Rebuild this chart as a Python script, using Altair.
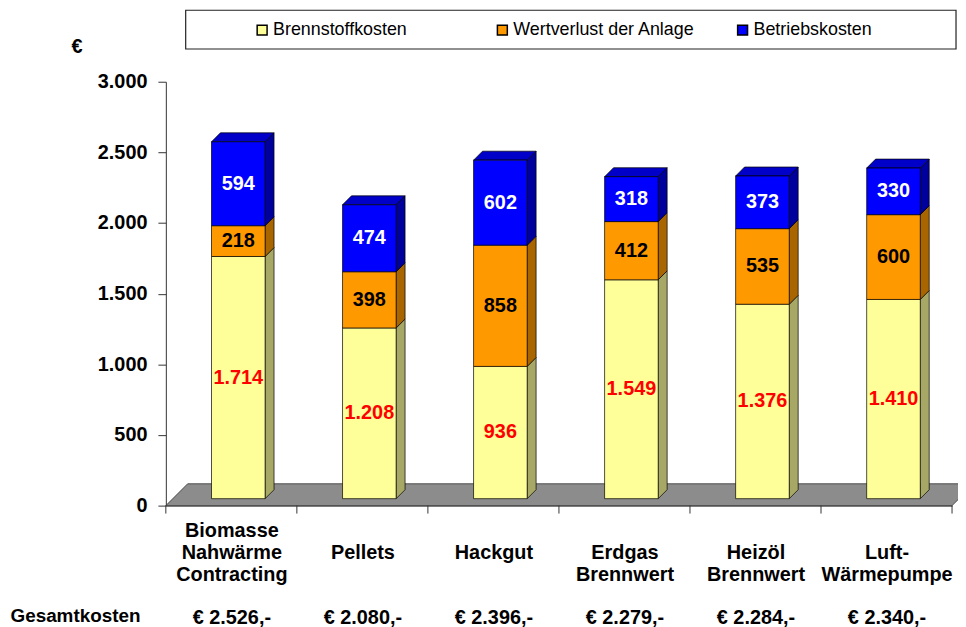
import json
import altair as alt
import pandas as pd

# ---------------- data ----------------
categories = ["Biomasse Nahwärme Contracting", "Pellets", "Hackgut",
              "Erdgas Brennwert", "Heizöl Brennwert", "Luft-Wärmepumpe"]
BL = "\u200b"  # blank line placeholder (keeps line spacing)
cat_lines = [["Biomasse", "Nahwärme", "Contracting"],
             [BL, "Pellets", BL],
             [BL, "Hackgut", BL],
             [BL, "Erdgas", "Brennwert"],
             [BL, "Heizöl", "Brennwert"],
             [BL, "Luft-", "Wärmepumpe"]]
series = ["Brennstoffkosten", "Wertverlust der Anlage", "Betriebskosten"]
brennstoff = [1714, 1208, 936, 1549, 1376, 1410]
wertverlust = [218, 398, 858, 412, 535, 600]
betrieb = [594, 474, 602, 318, 373, 330]
gesamt = [2526, 2080, 2396, 2279, 2284, 2340]
y_ticks = [0, 500, 1000, 1500, 2000, 2500, 3000]

# ---------------- style ----------------
FONT = "Liberation Sans"
front_colors = ["#FFFF99", "#FF9900", "#0000FF"]
side_colors = ["#A8A866", "#A86500", "#00009C"]
top_colors = ["#CCCC7A", "#CC7A00", "#0000C8"]
text_colors = ["#FF0000", "#000000", "#FFFFFF"]

W, H, YMAX = 792, 427, 3000
PXX = W / len(categories)          # px per category unit
PXY = H / YMAX                     # px per value unit
HW = 27 / PXX                      # half front width
DX, DY = 9 / PXX, 9 / PXY          # bar depth
FLOOR = 22                         # floor depth in px
SH = 7                             # bar position inside the floor (px)


def de(n):
    return f"{n:,}".replace(",", ".")


front_rows, side_rows, top_rows = [], [], []
for i in range(len(categories)):
    start = 0
    vals = [brennstoff[i], wertverlust[i], betrieb[i]]
    for k, (s, v) in enumerate(zip(series, vals)):
        lo, hi = start, start + v
        key = f"{i}-{k}"
        front_rows.append(dict(pos=i, x1=i - HW, x2=i + HW, lo=lo, hi=hi,
                               mid=(lo + hi) / 2, series=s, label=de(v),
                               tcolor=text_colors[k]))
        side_rows.append(dict(key=key, xx=i + HW, lo=lo, hi=hi, side=side_colors[k]))
        side_rows.append(dict(key=key, xx=i + HW + DX, lo=lo + DY, hi=hi + DY,
                              side=side_colors[k]))
        if k == len(series) - 1:
            top_rows.append(dict(key=key, yy=hi, xa=i - HW, xb=i + HW, top=top_colors[k]))
            top_rows.append(dict(key=key, yy=hi + DY, xa=i - HW + DX, xb=i + HW + DX,
                                 top=top_colors[k]))
        start = hi

front_df = pd.DataFrame(front_rows)
side_df = pd.DataFrame(side_rows)
top_df = pd.DataFrame(top_rows)
n = len(categories)
floor_df = pd.DataFrame([
    dict(yy=0, xa=-0.5, xb=n - 0.5),
    dict(yy=FLOOR / PXY, xa=-0.5 + FLOOR / PXX, xb=n - 0.5 + FLOOR / PXX),
])
tick_df = pd.DataFrame({"b": [i - 0.5 for i in range(n + 1)]})

label_arrays = [lines + [BL, f"€ {de(t)},-"] for lines, t in zip(cat_lines, gesamt)]
label_expr = json.dumps(label_arrays, ensure_ascii=False) + "[datum.value]"

xscale = alt.Scale(domain=[-0.5, n - 0.5], nice=False, zero=False)
yscale = alt.Scale(domain=[0, YMAX], nice=False)

x_axis = alt.Axis(values=list(range(n)), labelExpr=label_expr, ticks=False,
                  domainColor="#333333", domainWidth=1, grid=False,
                  labelFont=FONT, labelFontSize=20, labelFontWeight="bold",
                  labelColor="black", labelLineHeight=22, labelBaseline="top",
                  labelPadding=15, labelOverlap=False, labelFlush=False,
                  labelLimit=300,
                  title="Gesamtkosten", titleX=-157, titleY=111, titleAlign="left",
                  titleBaseline="middle", titleFont=FONT, titleFontSize=19,
                  titleFontWeight="bold", titleColor="black")
y_axis = alt.Axis(values=y_ticks,
                  labelExpr="replace(format(datum.value, ','), ',', '.')",
                  grid=False, domainColor="#333333", tickColor="#333333",
                  tickSize=8, labelPadding=11, labelFont=FONT, labelFontSize=20,
                  labelFontWeight="bold", labelColor="black",
                  title="€", titleAngle=0, titleX=-90, titleY=-35,
                  titleAlign="center", titleBaseline="middle", titleFont=FONT,
                  titleFontSize=20, titleFontWeight="bold", titleColor="black")

frame = alt.Chart(pd.DataFrame({"a": [0]})).mark_rect(
    fill="white", stroke="#222222", strokeWidth=1.2
).encode(x=alt.value(20), x2=alt.value(796), y=alt.value(-72), y2=alt.value(-33))

floor = alt.Chart(floor_df).mark_area(
    orient="horizontal", fill="#8C8C8C", stroke="#333333", strokeWidth=0.8
).encode(
    y=alt.Y("yy:Q", scale=yscale, axis=y_axis),
    x=alt.X("xa:Q", scale=xscale, axis=x_axis),
    x2="xb:Q",
)

ticks = alt.Chart(tick_df).mark_rule(color="#333333", strokeWidth=1).encode(
    x=alt.X("b:Q", scale=xscale, axis=x_axis),
    y=alt.value(H), y2=alt.value(H + 8),
)

sides = alt.Chart(side_df).mark_area(
    orient="vertical", stroke="black", strokeWidth=0.7,
    xOffset=SH, yOffset=-SH, y2Offset=-SH
).encode(
    x=alt.X("xx:Q", scale=xscale, axis=x_axis),
    y=alt.Y("lo:Q", scale=yscale, axis=y_axis),
    y2="hi:Q",
    fill=alt.Fill("side:N", scale=None),
    detail="key:N",
)

tops = alt.Chart(top_df).mark_area(
    orient="horizontal", stroke="black", strokeWidth=0.7,
    xOffset=SH, x2Offset=SH, yOffset=-SH
).encode(
    y=alt.Y("yy:Q", scale=yscale, axis=y_axis),
    x=alt.X("xa:Q", scale=xscale, axis=x_axis),
    x2="xb:Q",
    fill=alt.Fill("top:N", scale=None),
    detail="key:N",
)

fronts = alt.Chart(front_df).mark_rect(
    stroke="black", strokeWidth=0.7,
    xOffset=SH, x2Offset=SH, yOffset=-SH, y2Offset=-SH
).encode(
    x=alt.X("x1:Q", scale=xscale, axis=x_axis),
    x2="x2:Q",
    y=alt.Y("lo:Q", scale=yscale, axis=y_axis),
    y2="hi:Q",
    color=alt.Color("series:N",
                    scale=alt.Scale(domain=series, range=front_colors),
                    legend=alt.Legend(orient="none", legendX=88, legendY=-61,
                                      direction="horizontal", columns=3,
                                      gridAlign="all", columnPadding=39,
                                      symbolType="square", symbolSize=100,
                                      symbolStrokeColor="black",
                                      symbolStrokeWidth=1.5, labelFont=FONT,
                                      labelFontSize=18, labelColor="black",
                                      labelOffset=2, title=None, padding=0,
                                      labelLimit=300)),
)

labels = alt.Chart(front_df).mark_text(
    font=FONT, fontSize=20, fontWeight="bold", align="center",
    baseline="middle", xOffset=SH, yOffset=-SH
).encode(
    x=alt.X("pos:Q", scale=xscale, axis=x_axis),
    y=alt.Y("mid:Q", scale=yscale, axis=y_axis),
    text="label:N",
    color=alt.Color("tcolor:N", scale=None),
)

chart = alt.layer(frame, floor, ticks, sides, tops, fronts, labels).properties(
    width=W, height=H,
    autosize=alt.AutoSizeParams(type="none"),
    padding={"left": 159, "top": 72, "right": 6, "bottom": 120},
    background="white",
).configure(font=FONT).configure_view(stroke=None)

chart.save("out.html", embed_options={"renderer": "svg", "actions": False})
